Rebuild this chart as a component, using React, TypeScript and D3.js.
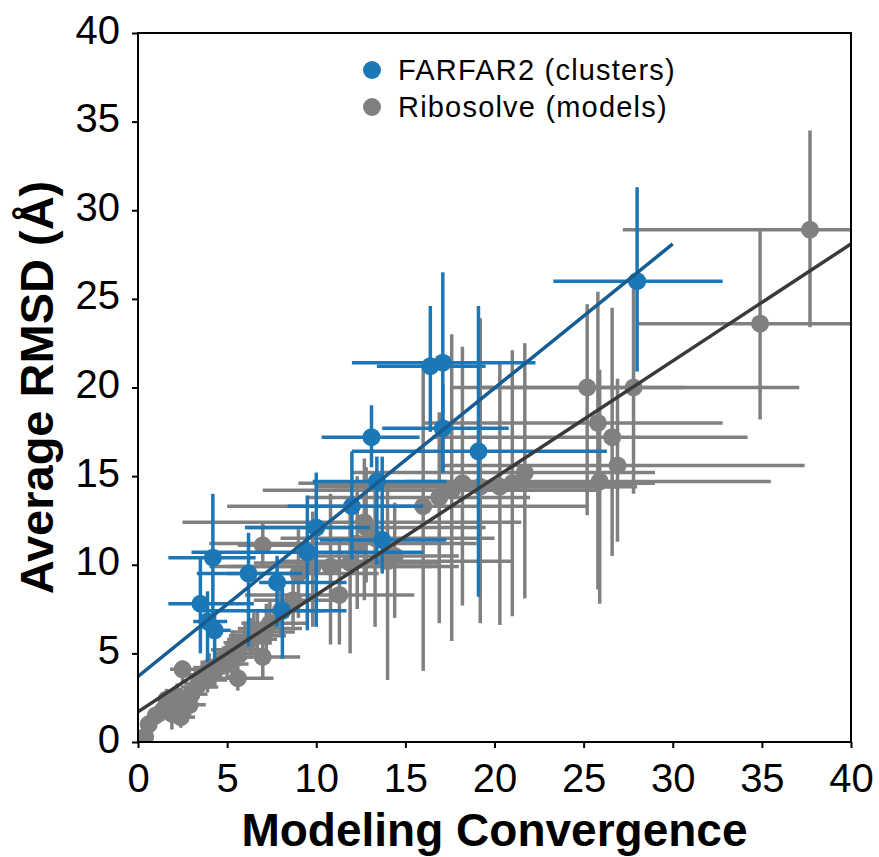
import React, { useEffect, useRef } from 'react';
import * as d3 from 'd3';

// each row: [x, y, xLow, xHigh, yLow, yHigh]
const farfarPoints: number[][] = [
  [28.0, 26.0, 23.3, 32.8, 20.9, 31.3],
  [16.4, 21.2, 13.4, 19.5, 17.5, 24.6],
  [17.1, 21.4, 12.0, 22.3, 15.2, 26.5],
  [19.1, 16.4, 12.0, 26.3, 8.2, 24.6],
  [17.1, 17.7, 13.7, 20.8, 15.2, 20.2],
  [13.1, 17.2, 10.3, 15.8, 15.5, 19.0],
  [13.4, 14.7, 9.8, 17.3, 10.0, 16.1],
  [12.0, 13.3, 8.4, 16.0, 10.3, 16.4],
  [13.7, 11.4, 10.2, 17.3, 9.5, 16.1],
  [10.0, 12.1, 6.0, 13.0, 6.5, 15.2],
  [9.5, 10.7, 3.0, 16.0, 6.3, 13.9],
  [4.2, 10.4, 1.7, 6.6, 6.3, 14.0],
  [6.2, 9.5, 3.3, 9.2, 5.4, 11.8],
  [3.5, 7.8, 1.7, 6.5, 5.0, 10.4],
  [4.3, 6.3, 3.9, 5.2, 4.6, 7.3],
  [3.9, 6.8, 3.1, 5.0, 4.5, 8.5],
  [8.1, 7.4, 3.6, 11.7, 4.7, 8.7],
  [7.8, 9.0, 6.8, 11.7, 6.5, 10.5],
];

const ribosolvePoints: number[][] = [
  [0.4, 0.3, 0.1, 0.8, 0.0, 0.7],
  [0.6, 1.0, 0.2, 1.0, 0.5, 1.5],
  [1.0, 1.5, 0.5, 1.6, 1.0, 2.0],
  [1.4, 1.8, 0.9, 2.2, 1.2, 2.5],
  [1.6, 2.4, 1.0, 2.3, 1.8, 3.0],
  [1.7, 1.9, 1.0, 2.6, 1.2, 2.6],
  [1.9, 1.6, 1.2, 2.6, 0.7, 2.3],
  [2.1, 2.0, 1.4, 2.9, 1.3, 2.7],
  [2.2, 2.6, 1.5, 3.0, 1.9, 3.3],
  [2.4, 1.4, 1.6, 3.2, 0.8, 2.1],
  [2.5, 4.1, 1.8, 3.6, 3.4, 4.6],
  [2.9, 2.1, 2.0, 3.8, 1.4, 2.8],
  [3.0, 2.7, 2.2, 3.9, 2.0, 3.4],
  [3.3, 3.1, 2.4, 4.5, 2.4, 3.8],
  [3.4, 3.3, 2.6, 4.4, 2.6, 4.0],
  [3.6, 3.8, 2.8, 4.6, 3.0, 4.6],
  [3.9, 3.5, 3.0, 5.0, 2.8, 4.3],
  [4.0, 4.2, 3.1, 5.1, 3.4, 5.0],
  [4.3, 4.0, 3.3, 5.6, 3.2, 4.8],
  [4.6, 4.4, 3.6, 5.8, 3.6, 5.2],
  [4.8, 4.6, 3.8, 6.0, 3.8, 5.4],
  [5.0, 4.4, 3.9, 6.2, 3.5, 5.4],
  [5.3, 5.2, 4.1, 6.9, 4.2, 6.3],
  [5.5, 5.0, 4.3, 7.0, 4.0, 6.1],
  [5.6, 3.6, 4.5, 7.6, 2.9, 4.3],
  [6.0, 5.6, 4.8, 7.5, 4.6, 6.8],
  [6.3, 5.8, 5.0, 7.8, 4.7, 7.0],
  [6.5, 6.0, 5.1, 8.3, 4.9, 7.3],
  [6.7, 6.2, 5.2, 8.8, 5.0, 7.5],
  [7.0, 4.8, 5.5, 9.1, 3.5, 6.0],
  [7.2, 6.4, 5.6, 9.2, 5.2, 7.8],
  [7.4, 6.7, 5.8, 9.5, 5.5, 8.0],
  [8.0, 7.4, 6.0, 10.5, 6.0, 8.6],
  [8.7, 8.0, 6.5, 11.5, 6.5, 9.5],
  [7.0, 11.1, 5.6, 9.0, 10.0, 12.3],
  [9.0, 9.5, 5.0, 13.5, 7.0, 12.0],
  [9.8, 9.9, 4.0, 16.5, 6.5, 13.0],
  [10.8, 9.9, 5.0, 18.0, 5.5, 14.0],
  [11.3, 8.3, 6.0, 15.5, 5.5, 11.5],
  [11.9, 10.1, 6.5, 17.0, 5.0, 13.0],
  [12.3, 11.2, 4.0, 19.0, 7.5, 15.0],
  [12.7, 12.4, 2.5, 21.5, 8.0, 16.0],
  [12.8, 12.1, 6.0, 19.5, 9.0, 15.5],
  [13.3, 11.5, 8.0, 20.0, 6.5, 15.0],
  [14.0, 10.2, 7.8, 21.0, 3.5, 14.5],
  [14.4, 10.5, 9.0, 18.0, 7.0, 13.5],
  [16.0, 13.3, 5.0, 25.2, 4.0, 21.5],
  [16.9, 13.8, 9.5, 22.0, 6.7, 18.6],
  [17.6, 14.2, 7.0, 26.0, 5.7, 23.0],
  [18.2, 14.6, 9.0, 27.5, 7.7, 22.3],
  [19.2, 14.4, 11.0, 28.0, 6.7, 23.9],
  [20.3, 14.4, 10.0, 27.0, 6.6, 21.4],
  [21.0, 14.6, 11.5, 29.0, 7.1, 22.1],
  [21.7, 15.2, 12.0, 29.0, 8.1, 22.5],
  [25.9, 14.7, 15.0, 35.5, 7.8, 21.0],
  [26.9, 15.6, 17.0, 37.4, 11.3, 20.5],
  [26.6, 17.2, 16.5, 34.2, 10.5, 24.5],
  [25.8, 18.0, 16.0, 32.8, 8.6, 25.4],
  [25.2, 20.0, 17.5, 37.1, 12.8, 24.7],
  [27.8, 20.0, 19.0, 30.6, 14.0, 25.9],
  [34.9, 23.6, 28.0, 44.0, 18.2, 29.0],
  [37.7, 28.9, 27.2, 44.0, 23.4, 34.5],
];

// fitted lines, endpoints in data units
const farfarFit = [[0, 3.7], [30, 28.1]];
const ribosolveFit = [[0, 1.7], [40, 28.1]];

const xTicks = [0, 5, 10, 15, 20, 25, 30, 35, 40];
const yTicks = [0, 5, 10, 15, 20, 25, 30, 35, 40];

const legendLabels = ['FARFAR2 (clusters)', 'Ribosolve (models)'];

const BLUE = '#1c77b6';
const GRAY = '#808080';

export default function App() {
  const svgRef = useRef<SVGSVGElement>(null);

  useEffect(() => {
    const width = 879;
    const height = 857;
    const margin = { top: 33, right: 28, bottom: 115, left: 138 };
    const innerW = width - margin.left - margin.right;
    const innerH = height - margin.top - margin.bottom;

    const svg = d3.select(svgRef.current);
    svg.selectAll('*').remove();

    const x = d3.scaleLinear().domain([0, 40]).range([0, innerW]);
    const y = d3.scaleLinear().domain([0, 40]).range([innerH, 0]);

    svg.append('defs').append('clipPath').attr('id', 'plot-clip')
      .append('rect').attr('width', innerW).attr('height', innerH);

    const g = svg.append('g').attr('transform', `translate(${margin.left},${margin.top})`);
    const plot = g.append('g').attr('clip-path', 'url(#plot-clip)');

    // error bars + dots, gray first then blue on top
    const drawSeries = (pts: number[][], color: string) => {
      const s = plot.append('g');
      s.selectAll('.xbar').data(pts).join('line').attr('class', 'xbar')
        .attr('x1', d => x(d[2])).attr('x2', d => x(d[3]))
        .attr('y1', d => y(d[1])).attr('y2', d => y(d[1]))
        .attr('stroke', color).attr('stroke-width', 3.5);
      s.selectAll('.ybar').data(pts).join('line').attr('class', 'ybar')
        .attr('x1', d => x(d[0])).attr('x2', d => x(d[0]))
        .attr('y1', d => y(d[4])).attr('y2', d => y(d[5]))
        .attr('stroke', color).attr('stroke-width', 3.5);
      s.selectAll('.dot').data(pts).join('circle').attr('class', 'dot')
        .attr('cx', d => x(d[0])).attr('cy', d => y(d[1])).attr('r', 9)
        .attr('fill', color);
    };
    drawSeries(ribosolvePoints, GRAY);
    drawSeries(farfarPoints, BLUE);

    // fit lines
    const line = d3.line<number[]>().x(d => x(d[0])).y(d => y(d[1]));
    plot.append('path').datum(ribosolveFit).attr('d', line)
      .attr('fill', 'none').attr('stroke', '#3a3a3a').attr('stroke-width', 3.5);
    plot.append('path').datum(farfarFit).attr('d', line)
      .attr('fill', 'none').attr('stroke', '#155d93').attr('stroke-width', 3.5);

    // frame
    g.append('rect').attr('width', innerW).attr('height', innerH)
      .attr('fill', 'none').attr('stroke', '#000').attr('stroke-width', 2);

    // axes
    const font = 'Liberation Sans, Arial, sans-serif';
    const yAxis = g.append('g')
      .call(d3.axisLeft(y).tickValues(yTicks).tickSize(6).tickPadding(12).tickFormat(d3.format('d')));
    const xAxis = g.append('g').attr('transform', `translate(0,${innerH})`)
      .call(d3.axisBottom(x).tickValues(xTicks).tickSize(6).tickPadding(16).tickFormat(d3.format('d')));
    [xAxis, yAxis].forEach(a => {
      a.select('.domain').remove();
      a.selectAll('line').attr('stroke', '#000').attr('stroke-width', 2);
      a.selectAll('text').attr('fill', '#000').attr('font-size', 40).attr('font-family', font);
    });
    yAxis.selectAll('text').attr('dy', '0.25em');

    // axis titles
    svg.append('text').attr('x', margin.left + innerW / 2).attr('y', 846)
      .attr('text-anchor', 'middle').attr('font-size', 46).attr('font-weight', 'bold')
      .attr('font-family', font).text('Modeling Convergence');
    svg.append('text').attr('transform', `translate(53,${margin.top + innerH / 2}) rotate(-90)`)
      .attr('text-anchor', 'middle').attr('font-size', 47).attr('font-weight', 'bold')
      .attr('font-family', font).text('Average RMSD (Å)');

    // legend
    const legend = svg.append('g');
    const colors = [BLUE, GRAY];
    legendLabels.forEach((label, i) => {
      const cy = 70 + i * 37;
      legend.append('circle').attr('cx', 372).attr('cy', cy).attr('r', 9).attr('fill', colors[i]);
      legend.append('text').attr('x', 398).attr('y', cy + 10)
        .attr('font-size', 29).attr('letter-spacing', 1.2).attr('font-family', font)
        .attr('fill', '#000').text(label);
    });
  }, []);

  return (
    <svg ref={svgRef} width={879} height={857}
      style={{ position: 'absolute', left: 0, top: 0, display: 'block', background: '#fff' }} />
  );
}
